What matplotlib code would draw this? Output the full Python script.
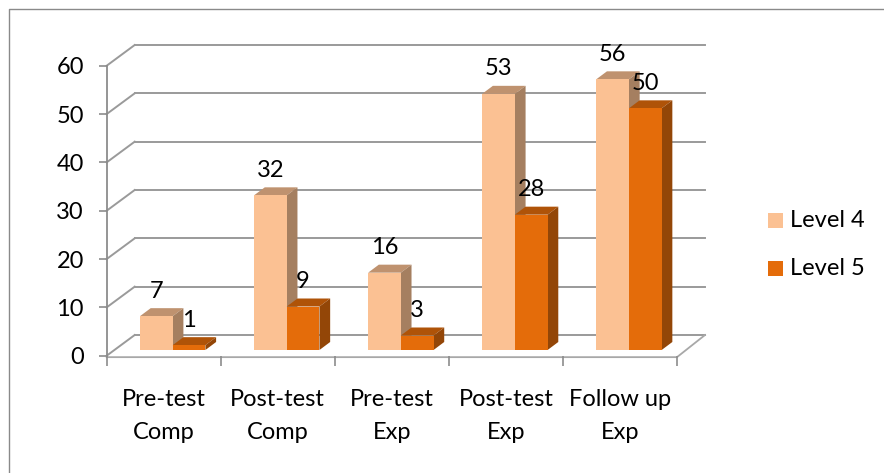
import matplotlib
matplotlib.use('Agg')
import matplotlib.pyplot as plt
from matplotlib.patches import Polygon, Rectangle
from matplotlib.lines import Line2D

plt.rcParams['font.family'] = ['Lato', 'DejaVu Sans']

categories = ['Pre-test\nComp', 'Post-test\nComp', 'Pre-test\nExp', 'Post-test\nExp', 'Follow up\nExp']
series_names = ['Level 4', 'Level 5']
level4 = [7, 32, 16, 53, 56]
level5 = [1, 9, 3, 28, 50]
yticks = [0, 10, 20, 30, 40, 50, 60]

W, H = 884, 473
FS = 17
fig = plt.figure(figsize=(W / 100, H / 100), dpi=100)
fig.patch.set_facecolor('white')
fig.add_artist(Line2D([9 / W, 9 / W, 1], [0, 1 - 9.5 / H, 1 - 9.5 / H], transform=fig.transFigure,
                      color='#8a8a8a', lw=1.0))

x0, x1, y0, y60 = 106.7, 677.0, 355.7, 65.7
ax = fig.add_axes([x0 / W, 1 - y0 / H, (x1 - x0) / W, (y0 - y60) / H])
ax.set_xlim(0, 5)
ax.set_ylim(0, 60)
ax.patch.set_alpha(0)
for s in ['top', 'right', 'bottom']:
    ax.spines[s].set_visible(False)
ax.spines['left'].set_color('#8c8c8c')
ax.spines['left'].set_linewidth(1.3)

ux = 5 / (x1 - x0)          # category units per pixel
uy = 60 / (y0 - y60)        # value units per pixel
grid_c = '#9a9a9a'
dx, dy = 28 * ux, 20.7 * uy  # depth of the wall

for v in yticks:
    ax.plot([0, dx], [v, v + dy], color=grid_c, lw=1.4, clip_on=False, zorder=1)
    ax.plot([dx, 5 + dx], [v + dy, v + dy], color=grid_c, lw=1.4, clip_on=False, zorder=1)
ax.plot([0, 5, 5 + dx], [-0.3, -0.3, dy], color='#a8a8a8', lw=1.3, clip_on=False, zorder=1)

ax.set_yticks(yticks)
ax.tick_params(axis='y', length=5.5, width=1.2, color='#8c8c8c', labelsize=FS, pad=11)
ax.set_xticks(range(6))
ax.set_xticklabels([])
ax.tick_params(axis='x', length=7, width=1.2, color='#8c8c8c', bottom=True)

for i, c in enumerate(categories):
    first, second = c.split('\n')
    ax.text(i + 0.5, -(399 - y0) * uy, first, ha='center', va='center', fontsize=FS)
    ax.text(i + 0.5, -(432 - y0) * uy, second, ha='center', va='center', fontsize=FS)

bw = 32.7 * ux
start = 33.3 * ux
base = 5.7 * uy
bx, by = 10.7 * ux, 8 * uy
fc = ['#FBC193', '#E46C0A']
tc = ['#BF926F', '#AF5308']
sc = ['#A57F60', '#934607']

for j, vals in enumerate([level4, level5]):
    for i, v in enumerate(vals):
        left = i + start + j * bw
        top = base + v
        z = 3 + i + j * 0.5
        ax.bar(left, v, bw, bottom=base, align='edge', color=fc[j], clip_on=False, zorder=z + 0.2)
        ax.add_patch(Polygon([(left, top), (left + bw, top), (left + bw + bx, top + by), (left + bx, top + by)],
                             fc=tc[j], ec='none', clip_on=False, zorder=z))
        ax.add_patch(Polygon([(left + bw, base), (left + bw + bx, base + by), (left + bw + bx, top + by), (left + bw, top)],
                             fc=sc[j], ec='none', clip_on=False, zorder=z))
        ax.text(left + bw / 2, top + by + 10.5 * uy, str(v), ha='center', va='baseline', fontsize=FS,
                color='black', clip_on=False, zorder=20)

for py, name, col in zip([220.5, 268.5], series_names, fc):
    fig.add_artist(Rectangle((768 / W, 1 - (py + 7.5) / H), 15 / W, 15 / H, transform=fig.transFigure, fc=col, ec='none'))
    fig.text(790 / W, 1 - py / H, name, ha='left', va='center', fontsize=FS, color='black')

fig.savefig('out.png', dpi=100)
